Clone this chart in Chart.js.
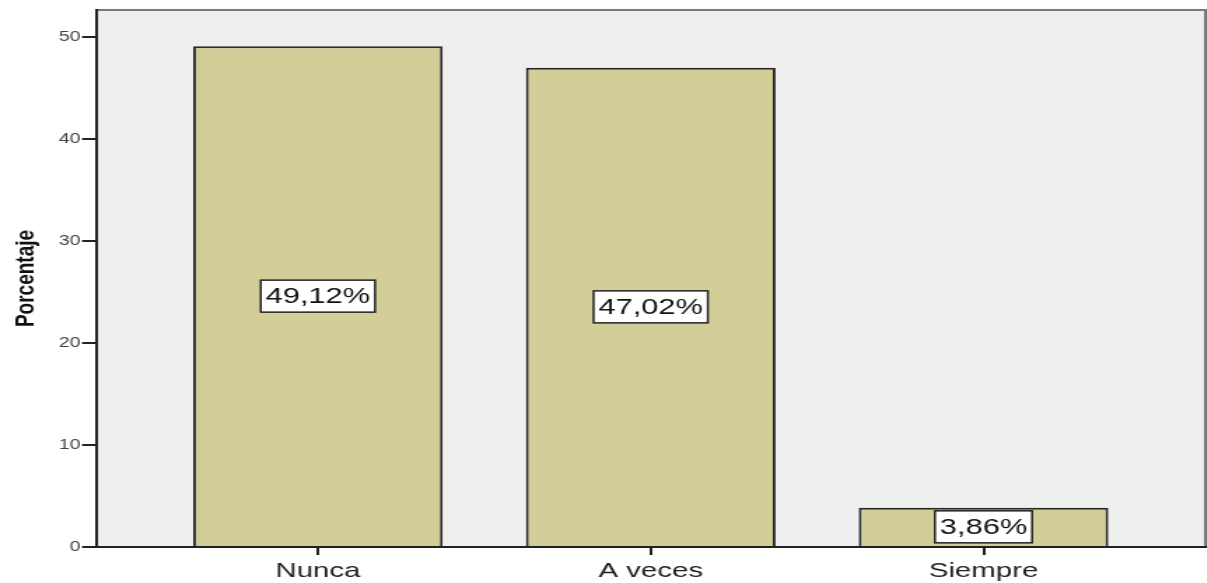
<!DOCTYPE html>
<html>
<head>
<meta charset="utf-8">
<script src="https://cdn.jsdelivr.net/npm/chart.js@4.4.1/dist/chart.umd.min.js"></script>
<style>
html,body{margin:0;padding:0;background:#fff;overflow:hidden;}
#wrap{width:862px;height:583px;position:relative;transform:scaleX(1.4);transform-origin:0 0;}
</style>
</head>
<body>
<div id="wrap"><canvas id="c" width="862" height="583"></canvas></div>
<script>
const categories = ['Nunca', 'A veces', 'Siempre'];
const percentages = [49.12, 47.02, 3.86];
const percentLabels = ['49,12%', '47,02%', '3,86%'];
const yTicks = [0, 10, 20, 30, 40, 50];

const FONT = '"Liberation Sans", Arial, sans-serif';

const bgPlugin = {
  id: 'bgPlugin',
  beforeDraw(chart) {
    const {ctx, chartArea: a} = chart;
    ctx.save();
    ctx.fillStyle = '#efefef';
    ctx.fillRect(a.left, a.top, a.right - a.left, a.bottom - a.top);
    ctx.strokeStyle = '#7a7a7a';
    ctx.lineWidth = 2;
    ctx.beginPath();
    ctx.moveTo(a.left, a.top);
    ctx.lineTo(a.right, a.top);
    ctx.lineTo(a.right, a.bottom);
    ctx.stroke();
    ctx.restore();
  }
};

const labelPlugin = {
  id: 'labelPlugin',
  afterDatasetsDraw(chart) {
    const {ctx} = chart;
    const meta = chart.getDatasetMeta(0);
    ctx.save();
    ctx.font = '22px ' + FONT;
    ctx.textAlign = 'center';
    ctx.textBaseline = 'middle';
    meta.data.forEach((bar, i) => {
      const cy = (bar.y + bar.base) / 2;
      const txt = percentLabels[i];
      const w = ctx.measureText(txt).width + 7;
      const h = 32;
      ctx.fillStyle = '#ffffff';
      ctx.fillRect(bar.x - w / 2, cy - h / 2, w, h);
      ctx.strokeStyle = '#222222';
      ctx.lineWidth = 1.5;
      ctx.strokeRect(bar.x - w / 2, cy - h / 2, w, h);
      ctx.fillStyle = '#111111';
      ctx.fillText(txt, bar.x, cy + 1);
    });
    ctx.restore();
  }
};

new Chart(document.getElementById('c'), {
  type: 'bar',
  data: {
    datasets: [{
      data: percentages.map((v, i) => ({x: i, y: v})),
      backgroundColor: '#d3ce98',
      borderColor: '#2a2a2a',
      borderWidth: 2,
      borderSkipped: 'bottom',
      categoryPercentage: 1,
      barPercentage: 0.75
    }]
  },
  plugins: [bgPlugin, labelPlugin],
  options: {
    responsive: false,
    animation: false,
    devicePixelRatio: 1,
    layout: {padding: {top: 10, right: 1, left: 0, bottom: 0}},
    plugins: {legend: {display: false}, tooltip: {enabled: false}},
    scales: {
      x: {
        type: 'linear',
        offset: false,
        min: -2/3,
        max: 8/3,
        afterBuildTicks(scale) { scale.ticks = categories.map((c, i) => ({value: i})); },
        afterFit(scale) { scale.height = 36; },
        ticks: {
          callback: (v) => categories[v] !== undefined ? categories[v] : '',
          color: '#222222',
          font: {family: FONT, size: 21},
          padding: 4,
          autoSkip: false,
          maxRotation: 0
        },
        grid: {offset: false, drawOnChartArea: false, drawTicks: true, tickLength: 8, color: '#222222', lineWidth: 2},
        border: {display: true, color: '#222222', width: 2}
      },
      y: {
        min: 0,
        max: 52.68,
        afterBuildTicks(scale) { scale.ticks = yTicks.map(v => ({value: v})); },
        afterFit(scale) { scale.width = 68.6; },
        ticks: {
          color: '#444444',
          font: {family: FONT, size: 14},
          padding: 1
        },
        grid: {drawOnChartArea: false, drawTicks: true, tickLength: 10, color: '#222222', lineWidth: 2},
        border: {display: true, color: '#222222', width: 2},
        title: {
          display: true,
          text: 'Porcentaje',
          color: '#111111',
          font: {family: FONT, size: 19, weight: 'bold'},
          padding: {top: 7, bottom: 0}
        }
      }
    }
  }
});
</script>
</body>
</html>
